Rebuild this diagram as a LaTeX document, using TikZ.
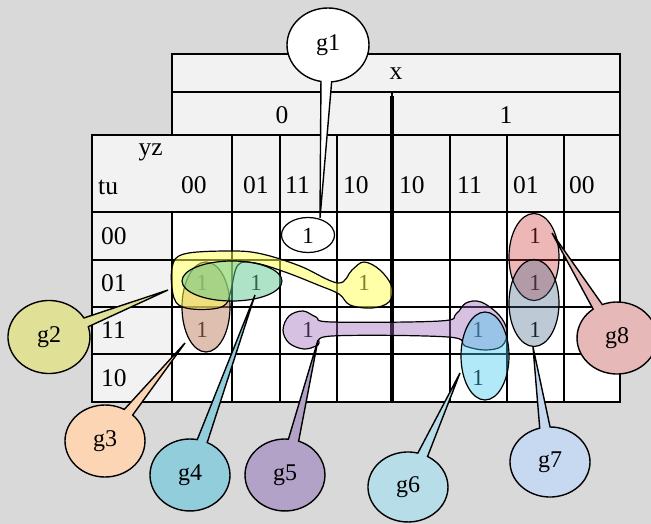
\documentclass[tikz,border=0pt]{standalone}
\usepackage{fontspec}
\setmainfont{Liberation Serif}
\usetikzlibrary{shapes.geometric,shapes.callouts}

\definecolor{pagegray}{HTML}{D9D9D9}
\definecolor{headgray}{HTML}{F2F2F2}
\definecolor{yellowgrp}{HTML}{FFFF50}
\definecolor{browngrp}{HTML}{C08060}
\definecolor{greengrp}{HTML}{60C890}
\definecolor{purplegrp}{HTML}{9966BB}
\definecolor{cyangrp}{HTML}{40C8F0}
\definecolor{bluegrp}{HTML}{446688}
\definecolor{redgrp}{HTML}{CC3333}
\definecolor{bubbleB}{HTML}{E0E096}
\definecolor{bubbleC}{HTML}{FCD5B4}
\definecolor{bubbleD}{HTML}{92CDDC}
\definecolor{bubbleE}{HTML}{B2A2C7}
\definecolor{bubbleF}{HTML}{B7DEE8}
\definecolor{bubbleG}{HTML}{C6D9F1}
\definecolor{bubbleH}{HTML}{E6B9B8}

\tikzset{
  tline/.style={draw, line width=1.6pt},
  lbl/.style={font=\fontsize{25.5}{26}\selectfont, inner sep=0pt},
  one/.style={font=\fontsize{23}{23}\selectfont, inner sep=0pt},
  grp/.style={draw, line width=1.2pt, fill opacity=0.5},
  grpell/.style={grp, ellipse, inner sep=0pt},
  bubble/.style={ellipse callout, draw, line width=1.4pt, inner sep=0pt,
    minimum width=80pt, minimum height=72pt, font=\fontsize{24}{24}\selectfont}
}

\begin{document}
\begin{tikzpicture}[x=1pt, y=-1pt]
        % Background
        \fill[pagegray] (0,0) rectangle (651,524);
        \useasboundingbox (0,0) rectangle (651,524);

        % Header cells
        \draw[tline, fill=headgray] (172,54) rectangle (620,92);
        \draw[tline, fill=headgray] (172,92) rectangle (392,135);
        \draw[tline, fill=headgray] (392,92) rectangle (620,135);
        \draw[tline, fill=headgray] (92,135) rectangle (620,212);
        \draw[tline, fill=headgray] (92,212) rectangle (172,402);
        \draw[tline, fill=white] (172,212) rectangle (620,402);

        % Grid lines
        \draw[tline] (232,135) -- (232,402);
        \draw[tline] (280,135) -- (280,402);
        \draw[tline] (337,135) -- (337,402);
        \draw[tline] (450,135) -- (450,402);
        \draw[tline] (507,135) -- (507,402);
        \draw[tline] (564,135) -- (564,402);
        \draw[tline] (92,260) -- (620,260);
        \draw[tline] (92,307) -- (620,307);
        \draw[tline] (92,354) -- (620,354);
        \draw[line width=4.5pt] (392,96) -- (392,402);
        \draw[line width=2.2pt] (92,135) rectangle (620,402);
        \draw[line width=2.2pt] (172,54) rectangle (620,135);

        % Header labels
        \node[lbl] (xlab) at (396,74) {x};
        \node[lbl] (xzero) at (282,115) {0};
        \node[lbl] (xone) at (506,115) {1};
        \node[lbl, anchor=east] (yzlab) at (163,152) {yz};
        \node[lbl, anchor=west] (tulab) at (98,187) {tu};

        % Column labels
        \node[lbl, anchor=west] (col1) at (181,185) {00};
        \node[lbl, anchor=west] (col2) at (243,185) {01};
        \node[lbl, anchor=west] (col3) at (285,185) {11};
        \node[lbl, anchor=west] (col4) at (343,185) {10};
        \node[lbl, anchor=west] (col5) at (399,185) {10};
        \node[lbl, anchor=west] (col6) at (457,185) {11};
        \node[lbl, anchor=west] (col7) at (513,185) {01};
        \node[lbl, anchor=west] (col8) at (569,185) {00};

        % Row labels
        \node[lbl, anchor=west] (row1) at (101,236) {00};
        \node[lbl, anchor=west] (row2) at (101,283) {01};
        \node[lbl, anchor=west] (row3) at (101,330) {11};
        \node[lbl, anchor=west] (row4) at (101,378) {10};

        % Ones
        \node[one] (o1) at (308,236) {1};
        \node[one] (o2) at (535,236) {1};
        \node[one] (o3) at (202,283) {1};
        \node[one] (o4) at (256,283) {1};
        \node[one] (o5) at (364,283) {1};
        \node[one] (o6) at (535,283) {1};
        \node[one] (o7) at (202,330) {1};
        \node[one] (o8) at (308,330) {1};
        \node[one] (o9) at (478,330) {1};
        \node[one] (o10) at (535,330) {1};
        \node[one] (o11) at (478,378) {1};

        % Groups
        \node[draw, line width=1.2pt, ellipse, inner sep=0pt, minimum width=53pt, minimum height=35pt] (grp1) at (308,235) {};
        \node[grpell, fill=browngrp, minimum width=48pt, minimum height=90pt] (grp3) at (206,307) {};
        \draw[grp, fill=yellowgrp, fill opacity=0.5] plot[smooth cycle, tension=0.6] coordinates {
            (172,268) (184,254) (232,251) (262,254) (300,266) (338,283) (352,270) (364,262)
            (380,270) (392,287) (389,302) (372,308) (350,305) (339,294) (318,285) (285,272)
            (255,263) (238,265) (231,290) (226,304) (212,309) (186,308) (174,298)};
        \node[grpell, fill=greengrp, minimum width=100pt, minimum height=40pt] (grp4) at (232,281) {};
        \node[grpell, fill=redgrp, fill opacity=0.35, minimum width=50pt, minimum height=87pt] (grp8) at (534,257) {};
        \node[grpell, fill=bluegrp, fill opacity=0.35, minimum width=50pt, minimum height=87pt] (grp7) at (534,303) {};
        \draw[grp, fill=purplegrp, fill opacity=0.4] plot[smooth cycle, tension=0.6] coordinates {
            (283,330) (289,316) (303,311) (316,317) (332,322) (440,321) (456,314) (466,303)
            (481,302) (499,315) (507,331) (502,346) (485,350) (465,346) (448,337) (332,336)
            (318,345) (304,349) (289,343)};
        \node[grpell, fill=cyangrp, fill opacity=0.4, minimum width=48pt, minimum height=88pt] (grp6) at (485,356) {};

        % Pointer tips
        \coordinate (tip1) at (320,218);
        \coordinate (tip2) at (168,290);
        \coordinate (tip3) at (185,343);
        \coordinate (tip4) at (255,295);
        \coordinate (tip5) at (318,340);
        \coordinate (tip6) at (460,373);
        \coordinate (tip7) at (533,347);
        \coordinate (tip8) at (552,233);

        % Callouts
        \node[bubble, fill=white, minimum width=82pt, minimum height=74pt, callout absolute pointer={(tip1)}] (g1) at (328,45) {g1};
        \node[bubble, fill=bubbleB, minimum width=82pt, minimum height=73pt, callout absolute pointer={(tip2)}] (g2) at (49,337) {g2};
        \node[bubble, fill=bubbleC, callout absolute pointer={(tip3)}] (g3) at (105,441) {g3};
        \node[bubble, fill=bubbleD, callout absolute pointer={(tip4)}] (g4) at (190,475) {g4};
        \node[bubble, fill=bubbleE, callout absolute pointer={(tip5)}] (g5) at (285,475) {g5};
        \node[bubble, fill=bubbleF, minimum height=70pt, callout absolute pointer={(tip6)}] (g6) at (408,487) {g6};
        \node[bubble, fill=bubbleG, minimum height=70pt, callout absolute pointer={(tip7)}] (g7) at (550,462) {g7};
        \node[bubble, fill=bubbleH, callout absolute pointer={(tip8)}] (g8) at (617,338) {g8};
\end{tikzpicture}
\end{document}
